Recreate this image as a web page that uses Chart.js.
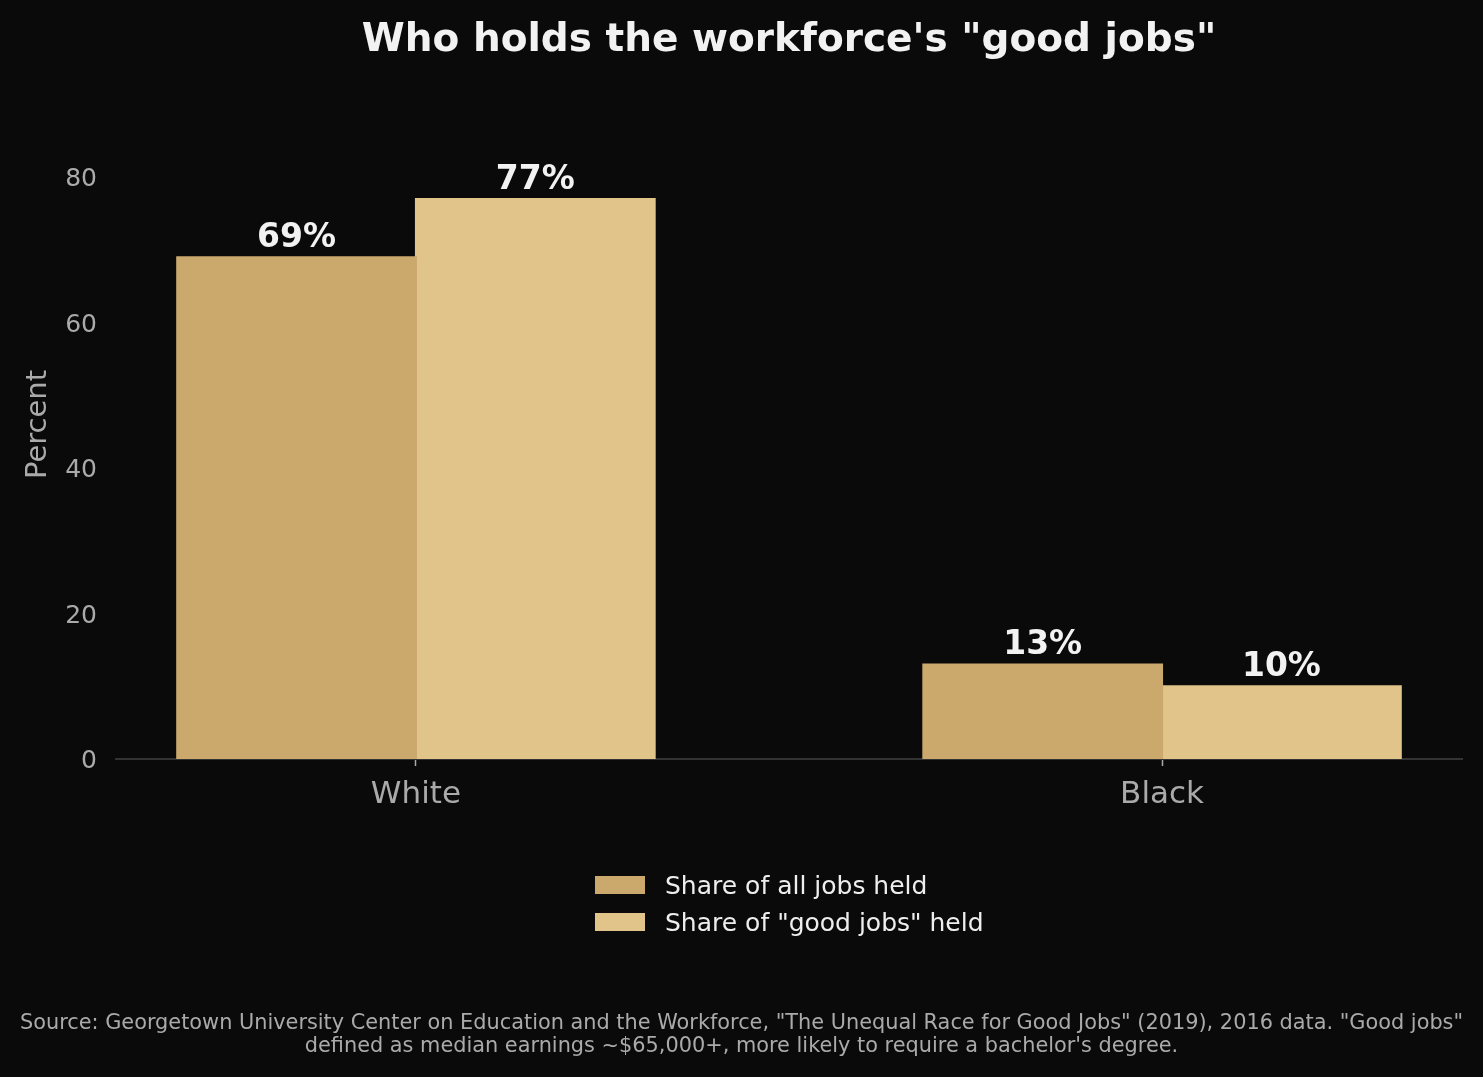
<!DOCTYPE html>
<html>
<head>
<meta charset="utf-8">
<script src="https://cdn.jsdelivr.net/npm/chart.js@4.4.1/dist/chart.umd.min.js"></script>
<style>
    body { margin: 0; background: #0a0a0a; }
    #wrap { position: relative; width: 1483px; height: 1077px; font-family: "DejaVu Sans", sans-serif; overflow: hidden; }
    #wrap canvas { position: absolute; left: 0; top: 0; }
    #title { position: absolute; left: 116px; width: 1346px; top: 17.7px; text-align: center; font-size: 39px; font-weight: bold; line-height: 1; color: #f2f2f2; white-space: nowrap; }
    .leg { position: absolute; left: 595px; height: 25px; font-size: 25px; line-height: 1; color: #eeeeee; white-space: nowrap; }
    .leg span.box { position: absolute; left: 0; top: 3px; width: 50px; height: 18px; }
    .leg span.txt { position: absolute; left: 70px; top: 0; }
    #source { position: absolute; left: 0; width: 1483px; top: 1011px; text-align: center; font-size: 20.85px; line-height: 23px; color: #aaaaaa; white-space: nowrap; }
</style>
</head>
<body>
<div id="wrap">
    <canvas id="chart" width="1483" height="1077"></canvas>
    <div id="title">Who holds the workforce's "good jobs"</div>
    <div id="legend"></div>
    <div id="source">Source: Georgetown University Center on Education and the Workforce, "The Unequal Race for Good Jobs" (2019), 2016 data. "Good jobs"<br>defined as median earnings ~$65,000+, more likely to require a bachelor's degree.</div>
</div>
<script>
// chart data
const categories = ['White', 'Black'];
const allJobsShare = [69, 13];
const goodJobsShare = [77, 10];
const seriesNames = ['Share of all jobs held', 'Share of "good jobs" held'];
const seriesColors = ['#cba86c', '#e1c48a'];
const yTicks = [0, 20, 40, 60, 80];

Chart.defaults.font.family = '"DejaVu Sans", sans-serif';

function toPoints(values) {
    return values.map((v, i) => ({ x: i, y: v }));
}

// value labels above each bar
const barLabels = {
    id: 'barLabels',
    afterDatasetsDraw(chart) {
        const ctx = chart.ctx;
        ctx.save();
        ctx.font = 'bold 33px "DejaVu Sans"';
        ctx.fillStyle = '#f2f2f2';
        ctx.textAlign = 'center';
        ctx.textBaseline = 'alphabetic';
        chart.data.datasets.forEach((ds, di) => {
            const meta = chart.getDatasetMeta(di);
            meta.data.forEach((bar, i) => {
                ctx.fillText(ds.data[i].y + '%', bar.x, bar.y - 10);
            });
        });
        ctx.restore();
    }
};

new Chart(document.getElementById('chart'), {
    type: 'bar',
    data: {
        datasets: [
            { label: seriesNames[0], data: toPoints(allJobsShare), backgroundColor: seriesColors[0] },
            { label: seriesNames[1], data: toPoints(goodJobsShare), backgroundColor: seriesColors[1] }
        ]
    },
    options: {
        responsive: false,
        animation: false,
        devicePixelRatio: 1,
        categoryPercentage: 0.64,
        barPercentage: 1,
        borderWidth: 0,
        inflateAmount: 1,
        layout: { padding: { left: 0, top: 90, right: 21, bottom: 238 } },
        plugins: {
            legend: { display: false },
            title: { display: false },
            tooltip: { enabled: false }
        },
        scales: {
            x: {
                type: 'linear',
                min: -0.402,
                max: 1.402,
                offset: false,
                afterBuildTicks: (axis) => { axis.ticks = categories.map((c, i) => ({ value: i })); },
                afterFit: (scale) => { scale.height = 80; },
                grid: { display: true, offset: false, drawOnChartArea: false, drawTicks: true, tickLength: 7, tickColor: '#aaaaaa', tickWidth: 1.5 },
                border: { display: true, color: '#333333', width: 2 },
                ticks: {
                    padding: 10,
                    color: '#aaaaaa',
                    font: { size: 31 },
                    maxRotation: 0,
                    callback: (v) => categories[v] ?? ''
                }
            },
            y: {
                min: 0,
                max: 92,
                afterBuildTicks: (axis) => { axis.ticks = yTicks.map(v => ({ value: v })); },
                afterFit: (scale) => { scale.width = 116; },
                grid: { display: false, drawTicks: false },
                border: { display: false },
                ticks: { padding: 19, labelOffset: 2.5, color: '#aaaaaa', font: { size: 25 } },
                title: { display: true, text: 'Percent', color: '#aaaaaa', font: { size: 29 }, padding: { top: 21, bottom: 0 } }
            }
        }
    },
    plugins: [barLabels]
});

// legend, stacked like the original
const legend = document.getElementById('legend');
seriesNames.forEach((name, i) => {
    const row = document.createElement('div');
    row.className = 'leg';
    row.style.top = (873 + i * 37) + 'px';
    row.innerHTML = '<span class="box" style="background:' + seriesColors[i] + '"></span><span class="txt"></span>';
    row.querySelector('.txt').textContent = name;
    legend.appendChild(row);
});
</script>
</body>
</html>
